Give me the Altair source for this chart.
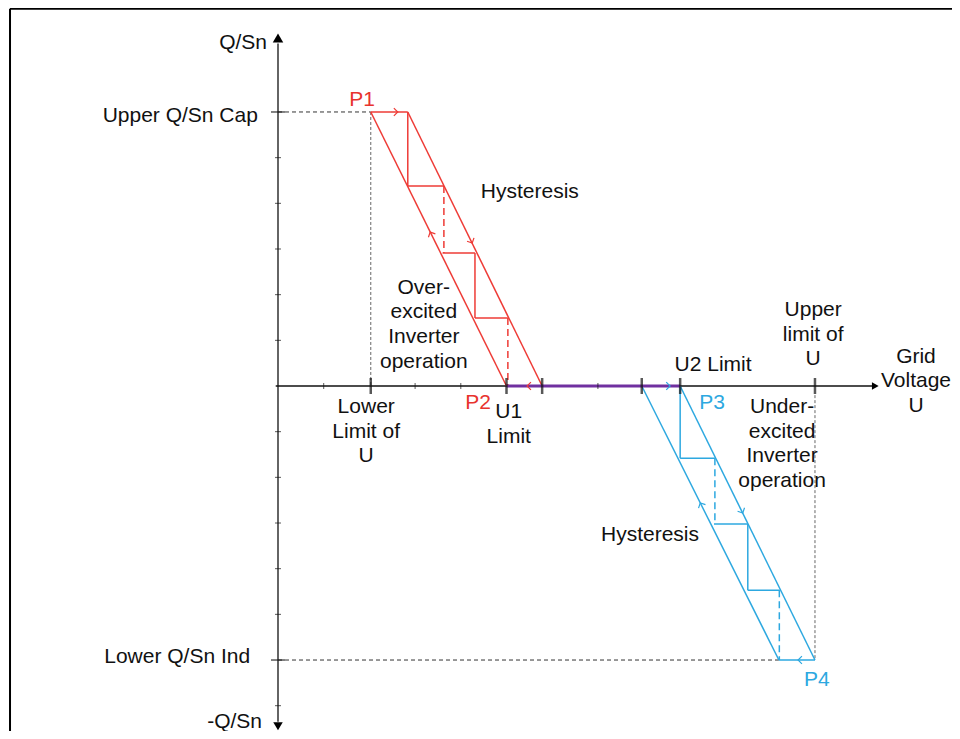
import altair as alt
import pandas as pd

# Units: x = grid-voltage steps from the Q axis, y = Q/Sn steps from the U axis
RED = "#EE3B36"
BLUE = "#2DA8E0"
PURPLE = "#7030A0"
FONT = "Liberation Sans"

# ---- red (over-excited) hysteresis curve: segment start/end points ----
red_x  = [2.03, 2.03, 2.84, 2.84, 2.84, 3.60, 4.31, 4.31]
red_y  = [6.00, 6.00, 6.00, 6.00, 4.38, 2.91, 2.91, 1.49]
red_x2 = [2.84, 5.00, 5.78, 2.84, 3.63, 4.31, 4.31, 5.03]
red_y2 = [6.00, 0.00, 0.00, 4.38, 4.38, 2.91, 1.49, 1.49]
red_dash_x  = [3.63, 5.03]
red_dash_y  = [4.38, 1.49]
red_dash_y2 = [2.91, 0.00]

# ---- blue (under-excited) hysteresis curve ----
blue_x  = [7.96, 8.80, 8.80, 8.80, 9.54, 10.28, 10.28, 10.96]
blue_y  = [0.00, 0.00, 0.00, -1.58, -3.02, -3.02, -4.47, -6.00]
blue_x2 = [10.96, 11.75, 8.80, 9.56, 10.28, 10.28, 10.98, 11.75]
blue_y2 = [-6.00, -6.00, -1.58, -1.58, -3.02, -4.47, -4.47, -6.00]
blue_dash_x  = [9.56, 10.97]
blue_dash_y  = [-1.58, -4.47]
blue_dash_y2 = [-3.02, -6.00]

# dead band between U1 and U2
band_x, band_x2 = [5.00], [8.80]

# dashed guide lines (dark: horizontal, light: vertical)
guide_dark_x  = [0.00, 0.00]
guide_dark_y  = [6.00, -6.00]
guide_dark_x2 = [2.03, 10.96]
guide_light_x = [2.03, 11.75]
guide_light_y = [6.00, -0.20]
guide_light_y2 = [0.00, -6.00]

# axes lines
axis_x  = [-0.05, 0.00]
axis_y  = [0.00, 7.50]
axis_x2 = [13.00, 0.00]
axis_y2 = [0.00, -7.35]

# outer frame (top and left edges)
frame_x  = [-5.864, -5.864]
frame_y  = [8.26, 8.26]
frame_x2 = [16.0, -5.864]
frame_y2 = [8.26, -9.0]

# axis arrow heads
head_x = [0.00, 0.00, 13.07]
head_y = [7.62, -7.45, 0.00]
head_shape = ["triangle-up", "triangle-down", "triangle-right"]
head_size = [110, 90, 60]

# direction chevrons on curves
chev_x = [2.62, 3.33, 4.25, 5.45, 8.58, 9.24, 10.17, 11.38]
chev_y = [6.00, 3.37, 3.13, 0.00, 0.00, -2.56, -2.78, -6.00]
chev_angle = [0, 243.6, 63.9, 180, 0, 243.4, 63.7, 180]
chev_color = [RED, RED, RED, RED, BLUE, BLUE, BLUE, BLUE]

# ticks
x_major = [2.03, 5.00, 5.78, 7.96, 8.80, 11.75]
x_minor = [1, 3, 4, 7]
y_major = [6, -6]
y_minor = [5, 4, 3, 2, 1, -1, -2, -3, -4, -5, -7]

# labels (y = centre of first line)
rlab_text = ["Q/Sn", "Upper Q/Sn Cap", "Lower Q/Sn Ind", "-Q/Sn"]
rlab_x = [-0.24, -0.44, -0.61, -0.35]
rlab_y = [7.51, 5.91, -5.93, -7.36]

clab_text = ["P1", "Hysteresis", "Over-\nexcited\nInverter\noperation",
             "Lower\nLimit of\nU", "P2", "U1\nLimit", "U2 Limit", "P3",
             "Under-\nexcited\nInverter\noperation", "Upper\nlimit of\nU",
             "Grid\nVoltage\nU", "Hysteresis", "P4"]
clab_x = [1.84, 5.51, 3.19, 1.93, 4.38, 5.05, 9.52, 9.50, 11.03, 11.71, 13.96, 8.14, 11.79]
clab_y = [6.26, 4.25, 2.15, -0.46, -0.37, -0.57, 0.45, -0.37, -0.46, 1.66, 0.64, -3.26, -6.44]
clab_color = ["#E8332E", "#111111", "#111111", "#111111", "#E8332E", "#111111", "#111111",
              BLUE, "#111111", "#111111", "#111111", "#111111", BLUE]

xs = alt.Scale(domain=[0, 1], range=[270, 315.7], nice=False, zero=False)
ys = alt.Scale(domain=[0, 1], range=[378, 332.33], nice=False, zero=False)
X = alt.X("x:Q", scale=xs, axis=None)
Y = alt.Y("y:Q", scale=ys, axis=None)


def segs(x, y, x2, y2, color, width, dash=None):
    df = pd.DataFrame({"x": x, "y": y, "x2": x2, "y2": y2})
    kw = dict(color=color, strokeWidth=width)
    if dash:
        kw["strokeDash"] = dash
    return alt.Chart(df).mark_rule(**kw).encode(x=X, y=Y, x2="x2:Q", y2="y2:Q")


layers = []
layers.append(segs(frame_x, frame_y, frame_x2, frame_y2, "#000000", 2))
layers.append(segs(axis_x, axis_y, axis_x2, axis_y2, "#111111", 1.3))
layers.append(segs(guide_dark_x, guide_dark_y, guide_dark_x2, guide_dark_y,
                   "#333333", 1, [4, 3]))
layers.append(segs(guide_light_x, guide_light_y, guide_light_x, guide_light_y2,
                   "#666666", 1, [3, 2]))
layers.append(segs(red_x, red_y, red_x2, red_y2, RED, 1.5))
layers.append(segs(red_dash_x, red_dash_y, red_dash_x, red_dash_y2, RED, 1.5, [7, 4]))
layers.append(segs(blue_x, blue_y, blue_x2, blue_y2, BLUE, 1.5))
layers.append(segs(blue_dash_x, blue_dash_y, blue_dash_x, blue_dash_y2, BLUE, 1.5, [7, 4]))
layers.append(segs(band_x, [0.0], band_x2, [0.0], PURPLE, 3))

# ticks
layers.append(alt.Chart(pd.DataFrame({"x": x_major, "y": [0.0] * len(x_major)}))
              .mark_tick(orient="vertical", size=16, thickness=2.5, color="#111111")
              .encode(x=X, y=Y))
layers.append(alt.Chart(pd.DataFrame({"x": x_minor, "y": [0.0] * len(x_minor)}))
              .mark_tick(orient="vertical", size=6, thickness=1, color="#111111")
              .encode(x=X, y=Y))
layers.append(alt.Chart(pd.DataFrame({"x": [0.0] * len(y_major), "y": y_major}))
              .mark_tick(orient="horizontal", size=14, thickness=1.5, color="#111111")
              .encode(x=X, y=Y))
layers.append(alt.Chart(pd.DataFrame({"x": [0.0] * len(y_minor), "y": y_minor}))
              .mark_tick(orient="horizontal", size=6, thickness=1, color="#111111")
              .encode(x=X, y=Y))

# arrow heads
layers.append(alt.Chart(pd.DataFrame({"x": head_x, "y": head_y, "s": head_shape, "z": head_size}))
              .mark_point(filled=True, color="#000000", opacity=1)
              .encode(x=X, y=Y, shape=alt.Shape("s:N", scale=None),
                      size=alt.Size("z:Q", scale=None)))

# chevrons
layers.append(alt.Chart(pd.DataFrame({"x": chev_x, "y": chev_y, "a": chev_angle, "c": chev_color}))
              .mark_point(shape="M-1,-1L0,0L-1,1", filled=False, strokeWidth=1.2, size=60, opacity=1)
              .encode(x=X, y=Y, angle=alt.Angle("a:Q", scale=None),
                      color=alt.Color("c:N", scale=None)))

# labels
layers.append(alt.Chart(pd.DataFrame({"x": rlab_x, "y": rlab_y, "t": rlab_text}))
              .mark_text(align="right", baseline="middle", font=FONT, fontSize=21, color="#111111")
              .encode(x=X, y=Y, text="t:N"))
layers.append(alt.Chart(pd.DataFrame({"x": clab_x, "y": clab_y, "t": clab_text, "c": clab_color}))
              .mark_text(align="center", baseline="middle", font=FONT, fontSize=21,
                         lineBreak="\n", lineHeight=24.6)
              .encode(x=X, y=Y, text="t:N", color=alt.Color("c:N", scale=None)))

chart = (alt.layer(*layers)
         .properties(width=944, height=723, padding=0, background="white",
                     autosize=alt.AutoSizeParams(type="none"))
         .configure_view(strokeWidth=0))

chart.save("out.html", embed_options={"renderer": "svg", "actions": False})
